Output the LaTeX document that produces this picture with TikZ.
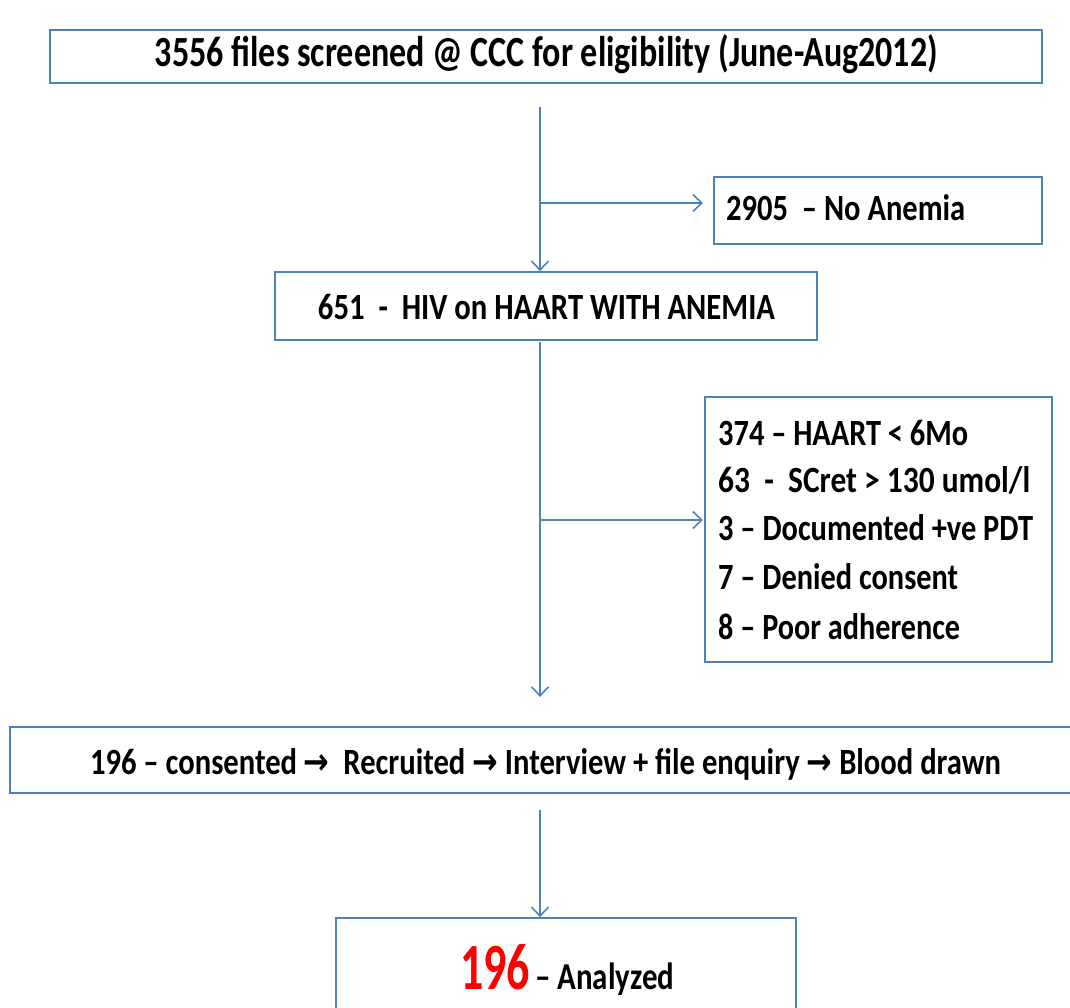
\documentclass[tikz,border=0pt]{standalone}
\usepackage{fontspec}
\setmainfont{Carlito}
\newfontfamily\arrowfont{DejaVu Sans}
\usetikzlibrary{arrows.meta}
\definecolor{lineblue}{RGB}{79,129,189}
\definecolor{numred}{RGB}{255,0,0}
\newcommand\fitw[2]{\resizebox{#1pt}{\height}{#2}}
\newcommand\rarr{{\arrowfont\bfseries →}}
\begin{document}
\begin{tikzpicture}[x=1pt,y=-1pt,
  box/.style={draw=lineblue, line width=1.6pt, rectangle, inner sep=0pt},
  conn/.style={draw=lineblue, line width=1.6pt, -{Straight Barb[length=9pt,width=17pt,line width=1.6pt]}},
  txt/.style={inner sep=0pt, font=\bfseries\fontsize{37}{42}\selectfont, text=black}]
\useasboundingbox (0,0) rectangle (1070,1008);
\clip (0,0) rectangle (1070,1008);
% boxes
\node[box, minimum width=992pt, minimum height=53pt] (screen) at (546,56.5) {};
\node[box, minimum width=328pt, minimum height=67pt] (noanem) at (878,210.5) {};
\node[box, minimum width=542pt, minimum height=68pt] (hiv) at (546,306) {};
\node[box, minimum width=347pt, minimum height=265pt] (excl) at (878.5,529.5) {};
\node[box, minimum width=1070pt, minimum height=66pt] (recr) at (545,760) {};
\node[box, minimum width=460pt, minimum height=102pt] (anal) at (566,969) {};
% texts
\node[txt, anchor=base, font=\bfseries\fontsize{43}{48}\selectfont] (t1) at (546.5,67) {\fitw{783}{3556 files screened @ CCC for eligibility (June-Aug2012)}};
\node[txt, anchor=base west] (t2) at (726,221) {\fitw{239}{2905\ \ – No Anemia}};
\node[txt, anchor=base] (t3) at (546.5,319) {\fitw{457}{651\ \ -\ \ HIV on HAART WITH ANEMIA}};
\node[txt, anchor=base west] (t4a) at (718,445) {\fitw{250}{374 – HAART < 6Mo}};
\node[txt, anchor=base west] (t4b) at (718,492) {\fitw{312}{63\ \ -\ \ SCret > 130 umol/l}};
\node[txt, anchor=base west] (t4c) at (718,540) {\fitw{315}{3 – Documented +ve PDT}};
\node[txt, anchor=base west] (t4d) at (718,589) {\fitw{240}{7 – Denied consent}};
\node[txt, anchor=base west] (t4e) at (718,639) {\fitw{242}{8 – Poor adherence}};
\node[txt, anchor=base] (t5) at (545.5,774) {\fitw{911}{196 – consented \rarr\ \ Recruited \rarr\ Interview + file enquiry \rarr\ Blood drawn}};
\node[txt, anchor=base west, text=numred, font=\bfseries\fontsize{66}{72}\selectfont] (t6a) at (460,989) {\fitw{70}{196}};
\node[txt, anchor=base west, font=\bfseries\fontsize{38}{42}\selectfont] (t6b) at (535,989) {\fitw{139}{– Analyzed}};
% connectors
\coordinate (s1) at (540,107);
\coordinate (b1) at (540,203);
\coordinate (b1e) at (703,203);
\coordinate (s2) at (540,342);
\coordinate (e2) at (540,697);
\coordinate (b2) at (540,520);
\coordinate (b2e) at (703,520);
\coordinate (s3) at (540,810);
\draw[conn] (s1) -- (s1 |- hiv.north);
\draw[conn] (b1) -- (b1e);
\draw[conn] (s2) -- (e2);
\draw[conn] (b2) -- (b2e);
\draw[conn] (s3) -- (s3 |- anal.north);
\end{tikzpicture}
\end{document}
